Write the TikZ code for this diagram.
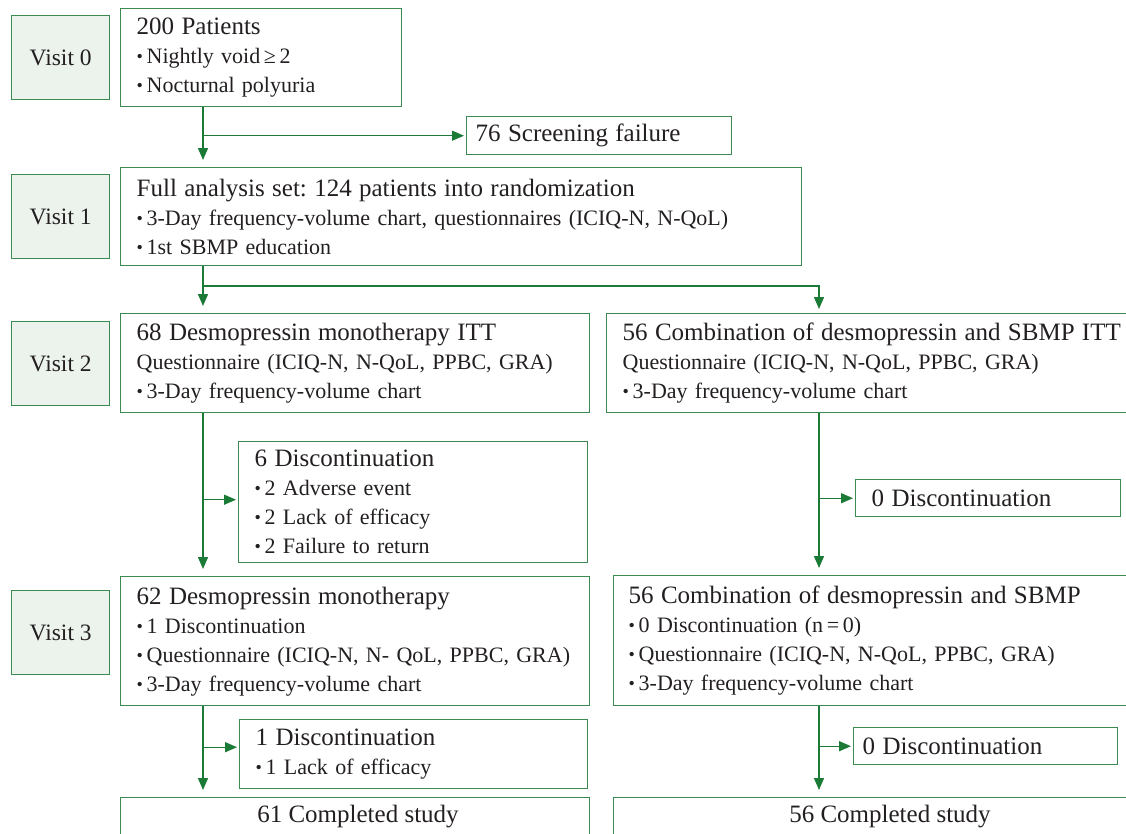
\documentclass[tikz,border=0pt]{standalone}
\usepackage{fontspec}
\setmainfont{Liberation Serif}
\usetikzlibrary{arrows.meta}
\definecolor{boxgreen}{RGB}{58,138,82}
\definecolor{arrgreen}{RGB}{27,122,53}
\definecolor{visitfill}{RGB}{236,243,237}
\definecolor{ink}{RGB}{35,31,32}
\newcommand{\ttl}{\fontsize{25}{30}\selectfont}
\newcommand{\bul}{\fontsize{22}{29}\selectfont}
\newcommand{\bt}{\raisebox{1pt}{\fontsize{18}{18}\selectfont •}\,}
\tikzset{
  box/.style={draw=boxgreen, line width=1.4pt, anchor=north west, align=left,
    inner xsep=16pt, inner ysep=0pt, font=\bul\frenchspacing, text=ink},
  visitbox/.style={draw=boxgreen, fill=visitfill, line width=1.4pt, anchor=north west,
    minimum width=98pt, minimum height=84pt, inner sep=0pt, font=\fontsize{23.5}{26}\selectfont, text=ink},
  arr/.style={draw=arrgreen, line width=1.4pt, -{Triangle[width=10pt,length=12pt]}},
  varr/.style={arr, shorten >=7pt},
  harr/.style={arr, shorten >=2pt},
}
\begin{document}
\begin{tikzpicture}[x=1pt,y=-1pt]
\useasboundingbox (0,0) rectangle (1126,833);
% visit labels
\node[visitbox] (v0) at (11,15) {Visit 0};
\node[visitbox] (v1) at (11,174) {Visit 1};
\node[visitbox] (v2) at (11,321) {Visit 2};
\node[visitbox] (v3) at (11,590) {Visit 3};
% main boxes
\node[box, text width=249pt, minimum height=98pt] (b0) at (120,8)
  {{\ttl 200 Patients}\\ \bt Nightly void\,≥\,2\\ \bt Nocturnal polyuria};
\node[box, inner xsep=9pt, text width=247pt, minimum height=38pt] (scr) at (466,116)
  {{\ttl 76 Screening failure}};
\node[box, text width=649pt, minimum height=98pt] (b1) at (120,167)
  {{\ttl Full analysis set: 124 patients into randomization}\\ \bt 3-Day frequency-volume chart, questionnaires (ICIQ-N, N-QoL)\\ \bt 1st SBMP education};
\node[box, text width=437pt, minimum height=99pt] (b2L) at (120,313)
  {{\ttl 68 Desmopressin monotherapy ITT}\\ Questionnaire (ICIQ-N, N-QoL, PPBC, GRA)\\ \bt 3-Day frequency-volume chart};
\node[box, text width=529pt, minimum height=99pt] (b2R) at (606,313)
  {{\ttl 56 Combination of desmopressin and SBMP ITT}\\ Questionnaire (ICIQ-N, N-QoL, PPBC, GRA)\\ \bt 3-Day frequency-volume chart};
\node[box, text width=317pt, minimum height=121pt] (d6) at (238,441)
  {{\ttl 6 Discontinuation}\\ \bt 2 Adverse event\\ \bt 2 Lack of efficacy\\ \bt 2 Failure to return};
\node[box, text width=233pt, minimum height=37pt] (d0a) at (855,479)
  {{\ttl 0 Discontinuation}};
\node[box, text width=437pt, minimum height=129pt] (b3L) at (120,576)
  {{\ttl 62 Desmopressin monotherapy}\\ \bt 1 Discontinuation\\ \bt Questionnaire (ICIQ-N, N- QoL, PPBC, GRA)\\ \bt 3-Day frequency-volume chart};
\node[box, inner xsep=15pt, text width=524pt, minimum height=130pt] (b3R) at (613,575)
  {{\ttl 56 Combination of desmopressin and SBMP}\\ \bt 0 Discontinuation (n\,=\,0)\\ \bt Questionnaire (ICIQ-N, N-QoL, PPBC, GRA)\\ \bt 3-Day frequency-volume chart};
\node[box, text width=316pt, minimum height=69pt] (d1) at (239,719)
  {{\ttl 1 Discontinuation}\\ \bt 1 Lack of efficacy};
\node[box, inner xsep=9pt, text width=246pt, minimum height=37pt] (d0b) at (853,727)
  {{\ttl 0 Discontinuation}};
\node[box, text width=437pt, minimum height=60pt] (cL) at (120,797) {};
\node[box, inner xsep=15pt, text width=524pt, minimum height=60pt] (cR) at (613,797) {};
\node[font=\ttl, text=ink, anchor=center] (cLt) at (358,817) {61 Completed study};
\node[font=\ttl, text=ink, anchor=center] (cRt) at (890,817) {56 Completed study};
% columns
\coordinate (cxL) at (203,0);
\coordinate (cxR) at (819,0);
\coordinate (split) at (203,286);
% connectors
\draw[varr] (b0.south -| cxL) -- (b1.north -| cxL);
\draw[harr] (scr.west -| cxL) -- (scr.west);
\draw[varr] (b1.south -| cxL) -- (b2L.north -| cxL);
\draw[arr, shorten >=4pt] (split) -| (b2R.north -| cxR);
\draw[varr] (b2L.south -| cxL) -- (b3L.north -| cxL);
\draw[harr] ([yshift=2.5pt]d6.west -| cxL) -- ([yshift=2.5pt]d6.west);
\draw[varr] (b2R.south -| cxR) -- (b3R.north -| cxR);
\draw[harr] (d0a.west -| cxR) -- (d0a.west);
\draw[varr] (b3L.south -| cxL) -- (cL.north -| cxL);
\draw[harr] ([yshift=7pt]d1.west -| cxL) -- ([yshift=7pt]d1.west);
\draw[varr] (b3R.south -| cxR) -- (cR.north -| cxR);
\draw[harr] (d0b.west -| cxR) -- (d0b.west);
\end{tikzpicture}
\end{document}
